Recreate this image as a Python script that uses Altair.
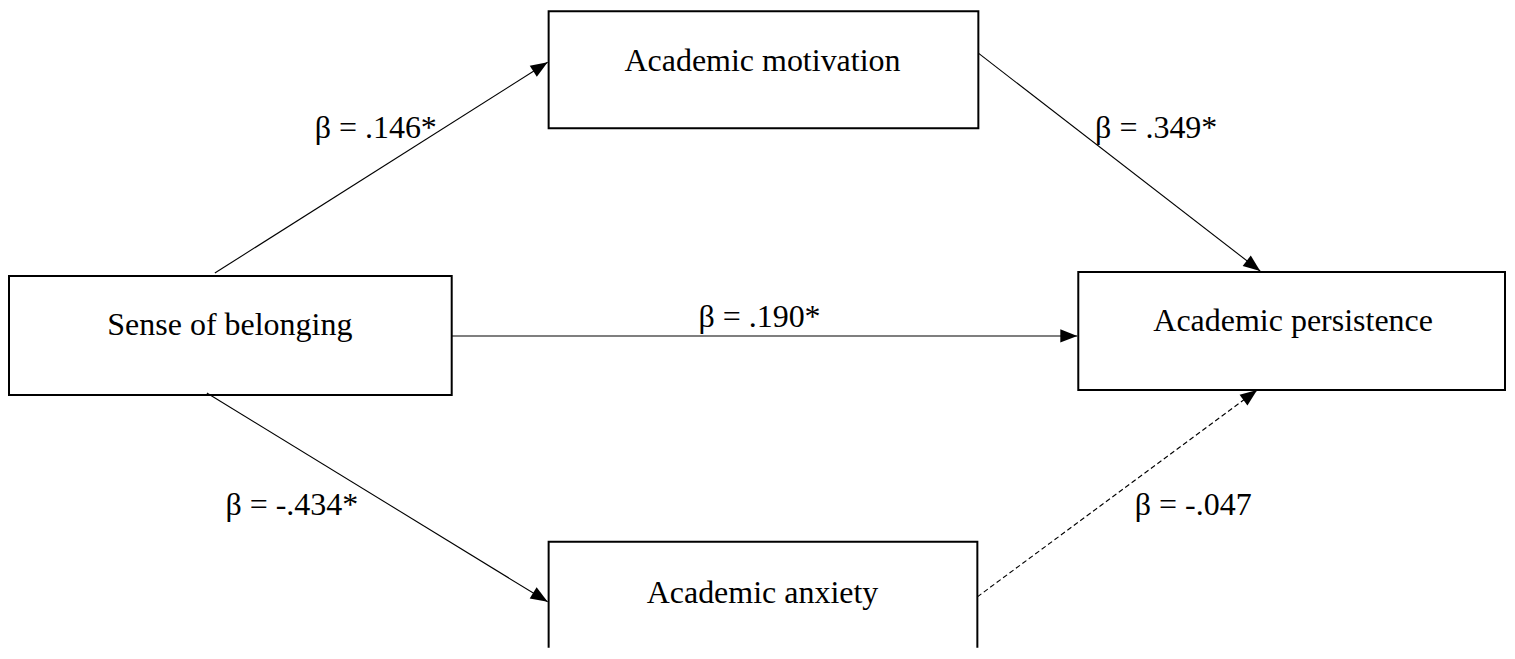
import math
import altair as alt
import pandas as pd

# ---- nodes (boxes) ----
node_names = ["Academic motivation", "Sense of belonging", "Academic persistence", "Academic anxiety"]
box_x1 = [549, 9, 1079, 549]
box_x2 = [979, 452, 1506, 978]
box_y1 = [11, 276, 272, 542]
box_y2 = [128, 395, 390, 720]
node_label_x = [763, 230, 1294, 763]
node_label_y = [71, 335, 331, 603]

# ---- edges (paths) ----
edge_x1 = [215, 979, 452, 207, 978]
edge_y1 = [273, 53, 336, 393, 597]
edge_x2 = [548, 1261, 1078, 548, 1258]
edge_y2 = [62, 271, 336, 602, 390]
edge_dashed = [0, 0, 0, 0, 1]
coef_labels = ["β = .146*", "β = .349*", "β = .190*", "β = -.434*", "β = -.047"]
coef_x = [376, 1157, 760, 292, 1194]
coef_y = [138, 138, 327, 515, 515]

W, H = 1500, 640
X0, Y0 = 8, 8
FONT = "Liberation Serif"

nodes = pd.DataFrame({"name": node_names, "x1": box_x1, "x2": box_x2, "y1": box_y1,
                      "y2": box_y2, "lx": node_label_x, "ly": node_label_y})

edges = pd.DataFrame({"x1": edge_x1, "y1": edge_y1, "x2": edge_x2, "y2": edge_y2,
                      "dashed": edge_dashed, "label": coef_labels, "lx": coef_x, "ly": coef_y})

HEAD = 17
hx, hy, ang = [], [], []
for a, b, c, d in zip(edge_x1, edge_y1, edge_x2, edge_y2):
    dx, dy = c - a, d - b
    n = math.hypot(dx, dy)
    ux, uy = dx / n, dy / n
    hx.append(c - ux * HEAD / 2)
    hy.append(d - uy * HEAD / 2)
    ang.append(math.degrees(math.atan2(dx, -dy)) % 360)
edges["hx"] = hx
edges["hy"] = hy
edges["angle"] = ang

xs = alt.Scale(domain=[X0, X0 + W], nice=False, zero=False)
ys = alt.Scale(domain=[Y0, Y0 + H], reverse=True, nice=False, zero=False)

base_n = alt.Chart(nodes)
base_e = alt.Chart(edges)

boxes = base_n.mark_rect(fill="white", stroke="black", strokeWidth=2, clip=True).encode(
    x=alt.X("x1:Q", scale=xs, axis=None), x2="x2:Q",
    y=alt.Y("y1:Q", scale=ys, axis=None), y2="y2:Q")

solid = base_e.transform_filter("datum.dashed == 0").mark_rule(color="black", strokeWidth=1.1).encode(
    x=alt.X("x1:Q", scale=xs, axis=None), x2="x2:Q",
    y=alt.Y("y1:Q", scale=ys, axis=None), y2="y2:Q")

dashed = base_e.transform_filter("datum.dashed == 1").mark_rule(
    color="black", strokeWidth=1.1, strokeDash=[5, 3]).encode(
    x=alt.X("x1:Q", scale=xs, axis=None), x2="x2:Q",
    y=alt.Y("y1:Q", scale=ys, axis=None), y2="y2:Q")

heads = base_e.mark_point(shape="M0,-1L0.78,1L-0.78,1Z", filled=True, color="black",
                          opacity=1, size=HEAD * HEAD, strokeWidth=0).encode(
    x=alt.X("hx:Q", scale=xs, axis=None),
    y=alt.Y("hy:Q", scale=ys, axis=None),
    angle=alt.Angle("angle:Q", scale=None))

node_text = base_n.mark_text(font=FONT, fontSize=32, color="black", align="center",
                             baseline="alphabetic").encode(
    x=alt.X("lx:Q", scale=xs, axis=None),
    y=alt.Y("ly:Q", scale=ys, axis=None),
    text="name:N")

coef_text = base_e.mark_text(font=FONT, fontSize=32, color="black", align="center",
                             baseline="alphabetic").encode(
    x=alt.X("lx:Q", scale=xs, axis=None),
    y=alt.Y("ly:Q", scale=ys, axis=None),
    text="label:N")

chart = alt.layer(boxes, solid, dashed, heads, node_text, coef_text).properties(
    width=W, height=H, padding=0, autosize=alt.AutoSizeParams(type="none"),
    background="white"
).configure_view(stroke=None)

chart.save("out.html", embed_options={"renderer": "svg", "actions": False})
